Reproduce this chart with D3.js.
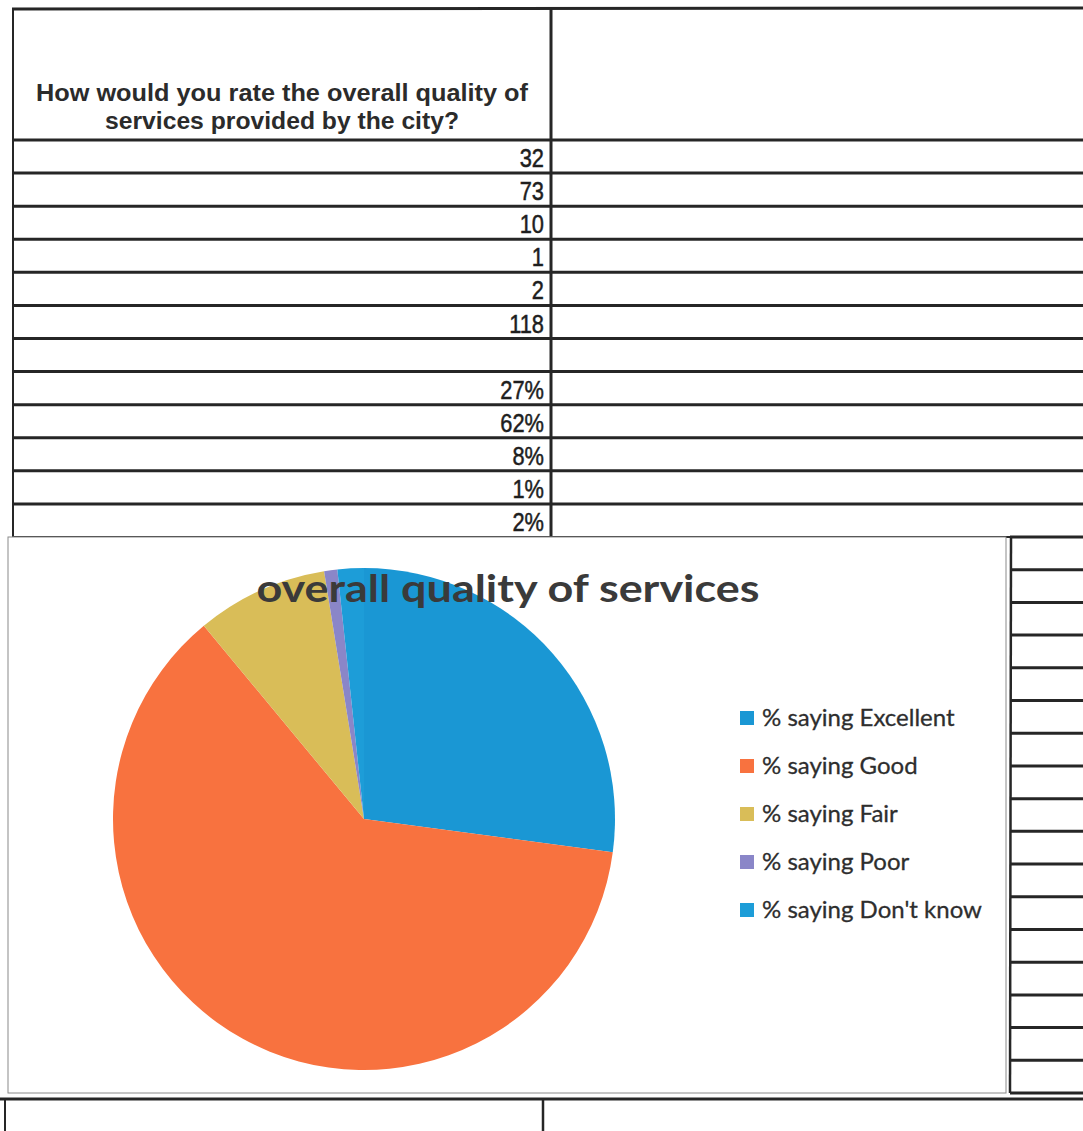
<!DOCTYPE html>
<html>
<head>
<meta charset="utf-8">
<script src="https://cdn.jsdelivr.net/npm/d3@7/dist/d3.min.js"></script>
<style>
  html, body { margin: 0; padding: 0; background: #fff; }
  svg { display: block; }
</style>
</head>
<body>
<svg id="chart" width="1083" height="1131"></svg>
<script>
// ---- data ----
const question = ["How would you rate the overall quality of", "services provided by the city?"];
const categories = ["% saying Excellent", "% saying Good", "% saying Fair", "% saying Poor", "% saying Don't know"];
const counts = [32, 73, 10, 1, 2];
const totalLabel = "118";
const pctLabels = ["27%", "62%", "8%", "1%", "2%"];
const chartTitle = "overall quality of services";
const colors = ["#1a97d4", "#f8723f", "#d9bd58", "#8a86c8", "#1d9dd8"];

// ---- layout ----
const svg = d3.select("#chart");
const W = 1083;
const ink = "#262626";

// Table column cells (left column values)
const tableCells = counts.map(String).concat([totalLabel, ""]).concat(pctLabels);
const rowY = d3.scaleLinear().domain([0, tableCells.length]).range([140, 537]);

const grid = svg.append("g");
grid.append("line").attr("x1", 12).attr("x2", W).attr("y1", 9).attr("y2", 8)
  .attr("stroke", ink).attr("stroke-width", 3);
d3.range(tableCells.length + 1).forEach(i => {
  grid.append("line").attr("x1", 12).attr("x2", W)
    .attr("y1", rowY(i)).attr("y2", rowY(i))
    .attr("stroke", ink).attr("stroke-width", i === tableCells.length ? 2 : 3);
});
grid.append("line").attr("x1", 13).attr("x2", 13).attr("y1", 9).attr("y2", 537)
  .attr("stroke", ink).attr("stroke-width", 2);
grid.append("line").attr("x1", 551).attr("x2", 551).attr("y1", 8).attr("y2", 537)
  .attr("stroke", ink).attr("stroke-width", 3);

// header question
svg.append("g").selectAll("text").data(question).join("text")
  .attr("x", 282).attr("y", (d, i) => 101 + i * 28)
  .attr("text-anchor", "middle")
  .attr("font-family", "Liberation Sans, Arial, sans-serif")
  .attr("font-weight", "bold").attr("font-size", 23)
  .attr("fill", "#2b2b2b")
  .attr("textLength", (d, i) => i === 0 ? 492 : 354)
  .attr("lengthAdjust", "spacingAndGlyphs")
  .text(d => d);

// cell values
svg.append("g").selectAll("text").data(tableCells).join("text")
  .attr("transform", (d, i) => `translate(544,${rowY(i + 1) - 6}) scale(0.84,1)`)
  .attr("text-anchor", "end")
  .attr("font-family", "Liberation Sans, Arial, sans-serif")
  .attr("font-size", 26)
  .attr("fill", "#1e1e1e")
  .attr("stroke", "#1e1e1e").attr("stroke-width", 0.5)
  .text(d => d);

// ---- chart area ----
svg.append("rect").attr("x", 8).attr("y", 537).attr("width", 998).attr("height", 556)
  .attr("fill", "#fff").attr("stroke", "#8a8a8a").attr("stroke-width", 1);

const sideY = d3.scaleLinear().domain([0, 17]).range([537, 1093]);
d3.range(18).forEach(i => {
  svg.append("line").attr("x1", 1010).attr("x2", W)
    .attr("y1", sideY(i)).attr("y2", sideY(i))
    .attr("stroke", ink).attr("stroke-width", 3);
});
svg.append("line").attr("x1", 1011).attr("x2", 1010).attr("y1", 537).attr("y2", 1093)
  .attr("stroke", ink).attr("stroke-width", 2.5);

// bottom row
svg.append("line").attr("x1", 0).attr("x2", W).attr("y1", 1099).attr("y2", 1099)
  .attr("stroke", ink).attr("stroke-width", 3);
svg.append("line").attr("x1", 5).attr("x2", 5).attr("y1", 1099).attr("y2", 1131)
  .attr("stroke", ink).attr("stroke-width", 2);
svg.append("line").attr("x1", 543).attr("x2", 543).attr("y1", 1099).attr("y2", 1131)
  .attr("stroke", ink).attr("stroke-width", 2.5);

// pie
const cx = 364, cy = 819, R = 251;
const pie = d3.pie().sort(null).value(d => d)(counts);
const arc = d3.arc().innerRadius(0).outerRadius(R);
svg.append("g").attr("transform", `translate(${cx},${cy})`)
  .selectAll("path").data(pie).join("path")
  .attr("d", arc)
  .attr("fill", (d, i) => colors[i]);

// title
svg.append("text")
  .attr("x", 508).attr("y", 602)
  .attr("text-anchor", "middle")
  .attr("font-family", "Lato, 'Open Sans', sans-serif")
  .attr("font-weight", "bold").attr("font-size", 38)
  .attr("fill", "#3a3a3a")
  .attr("textLength", 503).attr("lengthAdjust", "spacingAndGlyphs")
  .text(chartTitle);

// legend
const legY = d3.scaleLinear().domain([0, categories.length - 1]).range([718, 910]);
const leg = svg.append("g").selectAll("g").data(categories).join("g")
  .attr("transform", (d, i) => `translate(740,${legY(i)})`);
leg.append("rect").attr("x", 0).attr("y", -7).attr("width", 14).attr("height", 14)
  .attr("fill", (d, i) => colors[i]);
leg.append("text").attr("x", 22).attr("y", 8)
  .attr("font-family", "Lato, 'Open Sans', sans-serif")
  .attr("font-size", 24).attr("fill", "#2e2e2e")
  .attr("stroke", "#2e2e2e").attr("stroke-width", 0.3)
  .text(d => d);
</script>
</body>
</html>
